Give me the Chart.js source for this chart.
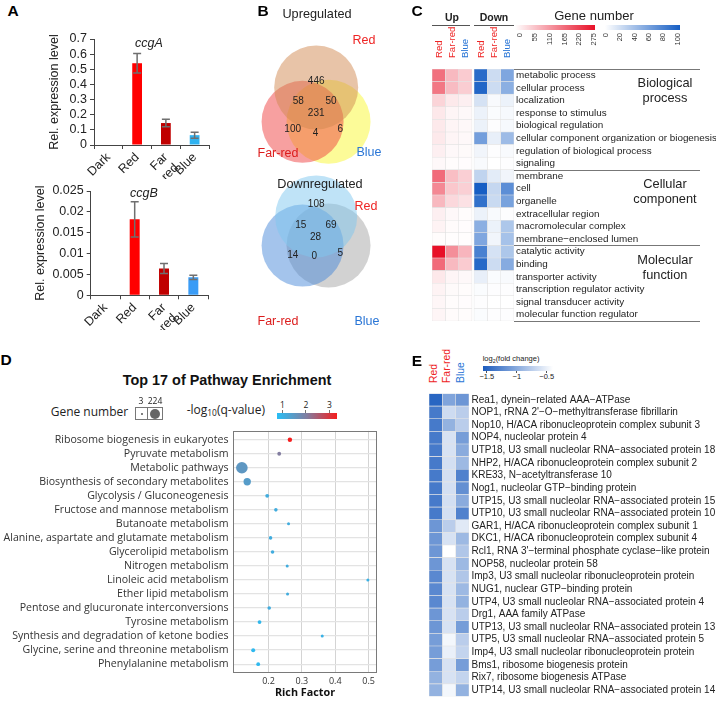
<!DOCTYPE html>
<html>
<head>
<meta charset="utf-8">
<title>Light-regulated genes</title>
<script src="https://cdn.jsdelivr.net/npm/chart.js@4.4.1/dist/chart.umd.min.js"></script>
<style>
  html, body { margin: 0; padding: 0; background: #fff; }
  #fig { position: relative; width: 716px; height: 705px; overflow: hidden;
         font-family: "Liberation Sans", Arial, sans-serif; color: #222; }
  #fig canvas { position: absolute; }
  .t { position: absolute; white-space: nowrap; line-height: 1; }
  .t sub { font-size: 70%; vertical-align: -0.25em; line-height: 0; }
  .bar { position: absolute; }
</style>
</head>
<body>
<div id="fig">
  <canvas id="ccgA" width="170" height="151" style="left:43px;top:28px"></canvas>
  <canvas id="ccgB" width="183" height="150" style="left:29px;top:180px"></canvas>
  <canvas id="venn" width="220" height="330" style="left:200px;top:0px"></canvas>
  <canvas id="goHeat" width="284" height="268" style="left:432px;top:61px"></canvas>
  <canvas id="kegg" width="390" height="285" style="left:0px;top:420px"></canvas>
  <canvas id="ribo" width="287" height="320" style="left:429px;top:385px"></canvas>
</div>
<script>
// ---- A: qRT-PCR of ccgA / ccgB ----
const conditions = ['Dark', 'Red', ['Far', '-red'], 'Blue'];
const ccgA = [0, 0.54, 0.145, 0.065];
const ccgAErr = [0, 0.065, 0.025, 0.02];
const ccgB = [0, 0.0182, 0.0064, 0.0043];
const ccgBErr = [0, 0.0042, 0.0012, 0.0005];
const ccgATicks = [0, 0.1, 0.2, 0.3, 0.4, 0.5, 0.6, 0.7];
const ccgBTicks = [0, 0.005, 0.01, 0.015, 0.02, 0.025];

// ---- B: Venn counts (Red only, Red∩Far-red, Red∩Blue, all, Far-red only, Far-red∩Blue, Blue only) ----
const vennUp = [446, 58, 50, 231, 100, 4, 6];
const vennDown = [108, 15, 69, 28, 14, 0, 5];

// ---- C: GO gene numbers ----
const goTerms = ['metabolic process', 'cellular process', 'localization', 'response to stimulus',
  'biological regulation', 'cellular component organization or biogenesis',
  'regulation of biological process', 'signaling',
  'membrane', 'cell', 'organelle', 'extracellular region', 'macromolecular complex',
  'membrane\u2212enclosed lumen',
  'catalytic activity', 'binding', 'transporter activity', 'transcription regulator activity',
  'signal transducer activity', 'molecular function regulator'];
const goGroups = [['Biological', 'process'], ['Cellular', 'component'], ['Molecular', 'function']];
const goGroupStart = [0, 8, 14];
const upRed    = [165, 157, 50, 27, 25, 25, 18, 8, 170, 137, 82, 18, 14, 4, 275, 170, 27, 14, 10, 12];
const upFarRed = [80, 78, 25, 12, 12, 12, 8, 4, 75, 65, 45, 8, 5, 2, 130, 80, 12, 6, 4, 5];
const upBlue   = [60, 58, 18, 8, 8, 8, 6, 3, 55, 55, 35, 4, 3, 2, 85, 60, 8, 4, 3, 4];
const downRed    = [92, 95, 18, 8, 8, 60, 6, 3, 27, 100, 88, 8, 50, 55, 78, 93, 10, 2, 1, 2];
const downFarRed = [22, 22, 3, 2, 1, 10, 1, 0, 12, 25, 23, 3, 8, 6, 18, 22, 2, 1, 0, 1];
const downBlue   = [55, 50, 8, 4, 4, 42, 3, 1, 6, 70, 58, 1, 35, 38, 35, 52, 3, 1, 0, 1];
const upTicks = [0, 55, 110, 165, 220, 275];
const downTicks = [0, 20, 40, 60, 80, 100];

// ---- D: KEGG enrichment ----
const pathways = ['Ribosome biogenesis in eukaryotes', 'Pyruvate metabolism', 'Metabolic pathways',
  'Biosynthesis of secondary metabolites', 'Glycolysis / Gluconeogenesis',
  'Fructose and mannose metabolism', 'Butanoate metabolism',
  'Alanine, aspartate and glutamate metabolism', 'Glycerolipid metabolism', 'Nitrogen metabolism',
  'Linoleic acid metabolism', 'Ether lipid metabolism', 'Pentose and glucuronate interconversions',
  'Tyrosine metabolism', 'Synthesis and degradation of ketone bodies',
  'Glycine, serine and threonine metabolism', 'Phenylalanine metabolism'];
const richFactor = [0.264, 0.232, 0.120, 0.136, 0.196, 0.222, 0.260, 0.206, 0.212, 0.256,
  0.498, 0.257, 0.202, 0.173, 0.361, 0.154, 0.169];
const negLogQ = [3.3, 2.0, 1.5, 1.4, 1.1, 1.1, 1.1, 1.1, 1.1, 1.1, 1.0, 1.1, 1.1, 0.9, 1.0, 0.85, 0.85];
const geneNumber = [9, 5, 224, 60, 5, 4, 3, 4, 4, 3, 3, 3, 4, 5, 3, 6, 5];
const richTicks = [0.2, 0.3, 0.4, 0.5];
const qTicks = [1, 2, 3];

// ---- E: ribosome biogenesis genes, log2(fold change) ----
const proteins = ['Rea1, dynein\u2212related AAA\u2212ATPase',
  'NOP1, rRNA 2\'\u2212O\u2212methyltransferase fibrillarin',
  'Nop10, H/ACA ribonucleoprotein complex subunit 3',
  'NOP4, nucleolar protein 4',
  'UTP18, U3 small nucleolar RNA\u2212associated protein 18',
  'NHP2, H/ACA ribonucleoprotein complex subunit 2',
  'KRE33, N\u2212acetyltransferase 10',
  'Nog1, nucleolar GTP\u2212binding protein',
  'UTP15, U3 small nucleolar RNA\u2212associated protein 15',
  'UTP10, U3 small nucleolar RNA\u2212associated protein 10',
  'GAR1, H/ACA ribonucleoprotein complex subunit 1',
  'DKC1, H/ACA ribonucleoprotein complex subunit 4',
  'Rcl1, RNA 3\'\u2212terminal phosphate cyclase\u2212like protein',
  'NOP58, nucleolar protein 58',
  'Imp3, U3 small nucleolar ribonucleoprotein protein',
  'NUG1, nuclear GTP\u2212binding protein',
  'UTP4, U3 small nucleolar RNA\u2212associated protein 4',
  'Drg1, AAA family ATPase',
  'UTP13, U3 small nucleolar RNA\u2212associated protein 13',
  'UTP5, U3 small nucleolar RNA\u2212associated protein 5',
  'Imp4, U3 small nucleolar ribonucleoprotein protein',
  'Bms1, ribosome biogenesis protein',
  'Rix7, ribosome biogenesis ATPase',
  'UTP14, U3 small nucleolar RNA\u2212associated protein 14'];
const fcRed    = [-1.5, -1.35, -1.35, -1.35, -1.35, -1.35, -1.35, -1.35, -1.35, -1.35, -1.15, -1.15,
  -1.15, -1.15, -1.25, -1.25, -1.25, -1.15, -1.15, -1.1, -1.1, -1.1, -0.95, -0.95];
const fcFarRed = [-1.05, -0.65, -0.95, -0.6, -0.6, -0.62, -0.62, -0.62, -0.62, -0.62, -0.75, -0.6,
  -0.35, -0.6, -0.6, -0.6, -0.6, -0.6, -0.6, -0.45, -0.5, -0.6, -0.6, -0.45];
const fcBlue   = [-1.15, -0.75, -0.75, -1.1, -1.0, -0.9, -1.3, -1.2, -1.0, -1.3, -0.55, -0.9,
  -0.8, -0.9, -0.8, -0.9, -0.95, -0.75, -1.1, -0.75, -0.7, -1.1, -0.7, -0.95];
const fcTicks = [-1.5, -1, -0.5];

// ---------------------------------------------------------------
Chart.defaults.font.family = '"Liberation Sans", Arial, sans-serif';
Chart.defaults.color = '#222';
Chart.defaults.animation = false;

const fig = document.getElementById('fig');
const SEGOE = '"Open Sans", "Noto Sans", sans-serif';
const RED_TXT = '#ee2424', BLUE_TXT = '#2a76d6';

function addText(html, x, y, css, align) {
  const d = document.createElement('div');
  d.className = 't';
  d.innerHTML = html;
  Object.assign(d.style, { left: x + 'px', top: y + 'px' }, css || {});
  const tx = align === 'left' ? '0' : align === 'right' ? '-100%' : '-50%';
  d.style.transform = `translate(${tx}, -50%)`;
  fig.appendChild(d);
  return d;
}
// vertical text read bottom-to-top; y is the lower end (or upper end if fromTop)
function addVText(text, x, y, css, fromTop) {
  const d = document.createElement('div');
  d.className = 't';
  d.textContent = text;
  Object.assign(d.style, { left: x + 'px', top: y + 'px', transformOrigin: '0 0',
    transform: fromTop ? 'rotate(-90deg) translate(-100%, -50%)' : 'rotate(-90deg) translateY(-50%)' }, css || {});
  fig.appendChild(d);
}
function addBox(x, y, w, h, css) {
  const d = document.createElement('div');
  d.className = 'bar';
  Object.assign(d.style, { left: x + 'px', top: y + 'px', width: w + 'px', height: h + 'px' }, css || {});
  fig.appendChild(d);
  return d;
}

function mix(c0, c1, t) {
  t = Math.max(0, Math.min(1, t));
  return c0.map((v, i) => Math.round(v + (c1[i] - v) * t));
}
const rgb = c => `rgb(${c.join(',')})`;
const WHITE = [255, 255, 255];
const UP_MAX = [232, 16, 40], DOWN_MAX = [22, 94, 196], FC_MAX = [28, 92, 190];
const upColor = v => rgb(mix(WHITE, UP_MAX, v / 275));
const downColor = v => rgb(mix(WHITE, DOWN_MAX, v / 100));
const fcColor = v => rgb(mix(WHITE, FC_MAX, (-0.39 - v) / (1.57 - 0.39)));
const Q_STOPS = [[0.76, [40, 190, 245]], [2.0, [130, 125, 160]], [3.3, [245, 30, 30]]];
function qColor(v) {
  if (v <= Q_STOPS[1][0]) return rgb(mix(Q_STOPS[0][1], Q_STOPS[1][1], (v - Q_STOPS[0][0]) / (Q_STOPS[1][0] - Q_STOPS[0][0])));
  return rgb(mix(Q_STOPS[1][1], Q_STOPS[2][1], (v - Q_STOPS[1][0]) / (Q_STOPS[2][0] - Q_STOPS[1][0])));
}

// ---------------- A: bar charts with error bars ----------------
const errorBars = {
  id: 'errorBars',
  afterDatasetsDraw(chart, args, opts) {
    const { ctx, scales: { y } } = chart;
    const ds = chart.data.datasets[0];
    ctx.save();
    ctx.strokeStyle = '#6f6f6f';
    ctx.lineWidth = 1.5;
    chart.getDatasetMeta(0).data.forEach((bar, i) => {
      const e = opts.errors[i];
      if (!e) return;
      const top = y.getPixelForValue(ds.data[i] + e), bot = y.getPixelForValue(ds.data[i] - e);
      ctx.beginPath();
      ctx.moveTo(bar.x, top); ctx.lineTo(bar.x, bot);
      ctx.moveTo(bar.x - 4, top); ctx.lineTo(bar.x + 4, top);
      ctx.moveTo(bar.x - 4, bot); ctx.lineTo(bar.x + 4, bot);
      ctx.stroke();
    });
    ctx.restore();
  }
};

function qpcrChart(id, values, errors, colors, ticks, yWidth, xHeight) {
  return new Chart(document.getElementById(id), {
    type: 'bar',
    data: { labels: conditions, datasets: [{ data: values, backgroundColor: colors,
      barPercentage: 0.34, categoryPercentage: 1 }] },
    options: {
      responsive: false, events: [],
      layout: { padding: { top: 11, right: 4 } },
      plugins: { legend: { display: false }, tooltip: { enabled: false }, errorBars: { errors } },
      scales: {
        x: {
          grid: { offset: true, drawOnChartArea: false, tickLength: 4, color: '#444' },
          border: { color: '#444' },
          ticks: { autoSkip: false, minRotation: 45, maxRotation: 45, padding: 1, font: { size: 12.5 } },
          afterFit: s => { s.height = xHeight; }
        },
        y: {
          min: 0, max: ticks[ticks.length - 1],
          afterBuildTicks: s => { s.ticks = ticks.map(v => ({ value: v })); },
          grid: { drawOnChartArea: false, tickLength: 4, color: '#444' },
          border: { color: '#444' },
          ticks: { autoSkip: false, padding: 3, font: { size: 12.5 }, callback: v => String(v) },
          title: { display: true, text: 'Rel. expression level', font: { size: 12.5 }, padding: { top: 4, bottom: 0 } },
          afterFit: s => { s.width = yWidth; }
        }
      }
    },
    plugins: [errorBars]
  });
}
qpcrChart('ccgA', ccgA, ccgAErr, ['#000', '#ff0000', '#c00000', '#2fb2f0'], ccgATicks, 51, 34);
qpcrChart('ccgB', ccgB, ccgBErr, ['#000', '#ff0000', '#c00000', '#3a9cf6'], ccgBTicks, 61.7, 34.7);
addText('ccgA', 149, 43, { fontStyle: 'italic', fontSize: '12.5px' });
addText('ccgB', 144, 193, { fontStyle: 'italic', fontSize: '12.5px' });

// ---------------- B: Venn diagrams ----------------
// circle geometry (Red, Far-red, Blue) and count label anchors for each diagram
const vennLayout = [
  { circles: [[320, 61, 42], [298, 107, 41], [340, 107, 42]],
    fills: ['rgba(209,137,81,0.5)', 'rgba(239,65,65,0.5)', 'rgba(250,247,49,0.5)'],
    counts: vennUp,
    spots: [[320, 52], [291, 80], [344, 79], [320, 95], [282, 117], [319, 123], [359, 117]] },
  { circles: [[320, 234, 41], [298, 273, 41], [340, 273, 42]],
    fills: ['rgba(127,199,239,0.5)', 'rgba(73,137,217,0.5)', 'rgba(165,165,165,0.5)'],
    counts: vennDown,
    spots: [[320, 218], [295, 246], [344, 246], [319, 262], [282, 286], [317, 287], [359, 283]] }
];
const vennText = {
  id: 'vennText',
  afterDatasetsDraw(chart) {
    const { ctx, scales: { x, y } } = chart;
    ctx.save();
    ctx.font = '10px "Liberation Sans", Arial, sans-serif';
    ctx.fillStyle = '#222';
    ctx.textAlign = 'center';
    ctx.textBaseline = 'middle';
    vennLayout.forEach(v => v.counts.forEach((c, i) => {
      ctx.fillText(String(c), x.getPixelForValue(v.spots[i][0]), y.getPixelForValue(v.spots[i][1]));
    }));
    ctx.restore();
  }
};
new Chart(document.getElementById('venn'), {
  type: 'bubble',
  data: { datasets: vennLayout.flatMap(v => v.circles.map((c, k) => ({
    data: [{ x: c[0], y: c[1], r: c[2] }], backgroundColor: v.fills[k], borderWidth: 0, clip: false
  }))) },
  options: {
    responsive: false, events: [],
    layout: { padding: 0 },
    plugins: { legend: { display: false }, tooltip: { enabled: false } },
    scales: { x: { type: 'linear', min: 200, max: 420, display: false },
              y: { type: 'linear', min: 0, max: 330, reverse: true, display: false } }
  },
  plugins: [vennText]
});
addText('Upregulated', 317, 14, { fontSize: '12.7px' });
addText('Downregulated', 320, 184, { fontSize: '12.7px' });
[[364, 40, 278, 153, 369, 152], [366, 206, 278, 321, 367, 321]].forEach(p => {
  addText('Red', p[0], p[1], { fontSize: '12.5px', color: RED_TXT });
  addText('Far-red', p[2], p[3], { fontSize: '12.5px', color: '#dc1c1c' });
  addText('Blue', p[4], p[5], { fontSize: '12.5px', color: BLUE_TXT });
});

// ---------------- C & E: heatmaps ----------------
function heatmap(id, labels, columns, xMax, axisWidth, fontSize, pad, extra) {
  return new Chart(document.getElementById(id), {
    type: 'bar',
    data: { labels, datasets: columns.map(col => ({
      data: labels.map(() => [col.x0, col.x0 + 1]),
      backgroundColor: col.values.map(col.color),
      borderColor: '#e4e4e4', borderWidth: 0.6, borderSkipped: false,
      barPercentage: 1, categoryPercentage: 1, grouped: false
    })) },
    options: {
      indexAxis: 'y', responsive: false, events: [],
      layout: { padding: 0 },
      plugins: { legend: { display: false }, tooltip: { enabled: false }, goSections: extra || {} },
      scales: {
        x: { type: 'linear', min: 0, max: xMax, display: false },
        y: { position: 'right', grid: { display: false, drawTicks: false }, border: { display: false },
             ticks: { autoSkip: false, padding: pad, font: { size: fontSize } },
             afterFit: s => { s.width = axisWidth; } }
      }
    },
    plugins: extra ? [goSections] : []
  });
}

const goSections = {
  id: 'goSections',
  afterDraw(chart, args, opts) {
    const { ctx, chartArea, scales: { y } } = chart;
    const band = y.getPixelForValue(1) - y.getPixelForValue(0);
    ctx.save();
    ctx.strokeStyle = '#777';
    ctx.lineWidth = 1;
    ctx.fillStyle = '#222';
    ctx.font = '12.8px "Liberation Sans", Arial, sans-serif';
    ctx.textAlign = 'center';
    ctx.textBaseline = 'middle';
    const rule = yy => {
      ctx.beginPath();
      ctx.moveTo(chartArea.right, Math.round(yy) + 0.5);
      ctx.lineTo(opts.lineEnd, Math.round(yy) + 0.5);
      ctx.stroke();
    };
    goGroupStart.forEach((s, k) => {
      const top = y.getPixelForValue(s) - band / 2;
      rule(top);
      const mid = top + 1.75 * band;
      ctx.fillText(goGroups[k][0], opts.textX, mid - 7.5);
      ctx.fillText(goGroups[k][1], opts.textX, mid + 7.5);
    });
    rule(chartArea.bottom - 0.5);
    ctx.restore();
  }
};

heatmap('goHeat', goTerms, [
  { x0: 0, values: upRed, color: upColor },
  { x0: 1, values: upFarRed, color: upColor },
  { x0: 2, values: upBlue, color: upColor },
  { x0: 3.15, values: downRed, color: downColor },
  { x0: 4.15, values: downFarRed, color: downColor },
  { x0: 5.15, values: downBlue, color: downColor }
], 6.15, 202, 9.9, 2, { lineEnd: 268, textX: 233 });

heatmap('ribo', proteins, [
  { x0: 0, values: fcRed, color: fcColor },
  { x0: 1, values: fcFarRed, color: fcColor },
  { x0: 2, values: fcBlue, color: fcColor }
], 3, 247, 10, 2.5, null);

// C headers and legend
addText('Up', 452, 17, { fontWeight: 'bold', fontSize: '10.5px' });
addText('Down', 494, 17, { fontWeight: 'bold', fontSize: '10.5px' });
addBox(432, 25, 38, 1, { background: '#555' });
addBox(474, 25, 40, 1, { background: '#555' });
[438.9, 452, 465.1, 480.9, 494, 507.1].forEach((x, i) => {
  const k = i % 3;
  addVText(['Red', 'Far-red', 'Blue'][k], x, 57.5, { fontSize: '9.6px', color: k < 2 ? RED_TXT : BLUE_TXT });
});
addText('Gene number', 594, 15, { fontSize: '13px' });
addBox(515, 25, 80, 5, { background: `linear-gradient(to right, #fff, ${rgb(UP_MAX)})` });
addBox(605, 25, 75, 5, { background: `linear-gradient(to right, #fff, ${rgb(DOWN_MAX)})` });
upTicks.forEach(v => addVText(String(v), 520.3 + v / 275 * 73.7, 32.5, { fontSize: '7.5px', color: '#333' }, true));
downTicks.forEach(v => addVText(String(v), 605.7 + v / 100 * 72, 32.5, { fontSize: '7.5px', color: '#333' }, true));

// E headers and legend
[433.5, 447.3, 460.7].forEach((x, k) => {
  addVText(['Red', 'Far-red', 'Blue'][k], x, 382.5, { fontSize: '10.4px', color: k < 2 ? RED_TXT : BLUE_TXT });
});
addText('log<sub>2</sub>(fold change)', 482.7, 359, { fontSize: '7.5px' }, 'left');
addBox(482.7, 365.7, 70.6, 5, { background: `linear-gradient(to right, ${rgb(FC_MAX)}, #fff)` });
fcTicks.forEach(v => {
  const x = 482.7 + (v + 1.57) / (1.57 - 0.39) * 70.6;
  addBox(x - 0.5, 370.7, 1, 2, { background: '#555' });
  addText(String(v).replace('-', '\u2212'), x, 376.5, { fontSize: '7.5px' });
});

// ---------------- D: KEGG bubble chart ----------------
const plotFrame = {
  id: 'plotFrame',
  beforeDatasetsDraw(chart) {
    const { ctx, chartArea: a } = chart;
    ctx.save();
    ctx.strokeStyle = '#7a7a7a';
    ctx.lineWidth = 1;
    ctx.strokeRect(Math.round(a.left) + 0.5, Math.round(a.top) + 0.5, Math.round(a.width) - 1, Math.round(a.height) - 1);
    ctx.restore();
  }
};
const bubbleRadius = n => 1.5 + 4.3 * Math.sqrt((n - 3) / 221);
new Chart(document.getElementById('kegg'), {
  type: 'bubble',
  data: { datasets: [{
    data: pathways.map((p, i) => ({ x: richFactor[i], y: i, r: bubbleRadius(geneNumber[i]) })),
    backgroundColor: negLogQ.map(qColor), borderWidth: 0
  }] },
  options: {
    responsive: false, events: [],
    layout: { padding: { top: 6, right: 13, left: 0, bottom: 0 } },
    plugins: { legend: { display: false }, tooltip: { enabled: false } },
    scales: {
      x: {
        type: 'linear', min: 0.0934, max: 0.5253,
        afterBuildTicks: s => { s.ticks = richTicks.map(v => ({ value: v })); },
        grid: { color: '#d4d4d4', drawTicks: false },
        border: { display: false },
        ticks: { padding: 3, color: '#333', font: { family: SEGOE, size: 9 }, callback: v => v.toFixed(1) },
        title: { display: true, text: 'Rich Factor', color: '#111', font: { family: SEGOE, size: 10.8, weight: 'bold' }, padding: { top: 0, bottom: 6 } },
        afterFit: s => { s.height = 32; }
      },
      y: {
        type: 'linear', min: -0.63, max: 16.63, reverse: true,
        afterBuildTicks: s => { s.ticks = pathways.map((p, i) => ({ value: i })); },
        grid: { color: '#e3e3e3', lineWidth: 1.3, drawTicks: false },
        border: { display: false },
        ticks: { autoSkip: false, padding: 4.5, color: '#333', font: { family: SEGOE, size: 10.6 }, callback: v => pathways[v] },
        afterFit: s => { s.width = 233; }
      }
    }
  },
  plugins: [plotFrame]
});
addText('Top 17 of Pathway Enrichment', 227, 380, { fontWeight: 'bold', fontSize: '14.4px', color: '#111' });
addText('Gene number', 50.7, 412, { fontFamily: SEGOE, fontSize: '12px' }, 'left');
addBox(135, 407, 13, 13, { border: '1px solid #777', boxSizing: 'border-box' });
addBox(147, 407, 15.5, 13, { border: '1px solid #777', boxSizing: 'border-box' });
addBox(140.5, 412.5, 2, 2, { background: '#555', borderRadius: '50%' });
addBox(149.7, 408.5, 10, 10, { background: '#666', borderRadius: '50%' });
addText(String(Math.min(...geneNumber)), 141, 401, { fontFamily: SEGOE, fontSize: '8.5px' });
addText(String(Math.max(...geneNumber)), 155, 401, { fontFamily: SEGOE, fontSize: '8.5px' });
addText('-log<sub>10</sub>(q-value)', 186.7, 410, { fontFamily: SEGOE, fontSize: '12px' }, 'left');
addBox(276.7, 413.3, 60, 5.7, { background: `linear-gradient(to right, ${Q_STOPS.map(s => rgb(s[1])).join(', ')})` });
qTicks.forEach(v => {
  const x = 276.7 + (v - 0.76) / (3.31 - 0.76) * 60;
  addBox(x - 0.5, 409.5, 1, 3.8, { background: '#777' });
  addText(String(v), x, 404.5, { fontFamily: SEGOE, fontSize: '8.5px' });
});

// ---------------- panel letters ----------------
[['A', 13, 11], ['B', 263, 11], ['C', 417, 11], ['D', 6, 360], ['E', 417, 361]].forEach(([l, x, y]) => {
  addText(l, x, y, { fontWeight: 'bold', fontSize: '15.5px', color: '#000' });
});
</script>
</body>
</html>
